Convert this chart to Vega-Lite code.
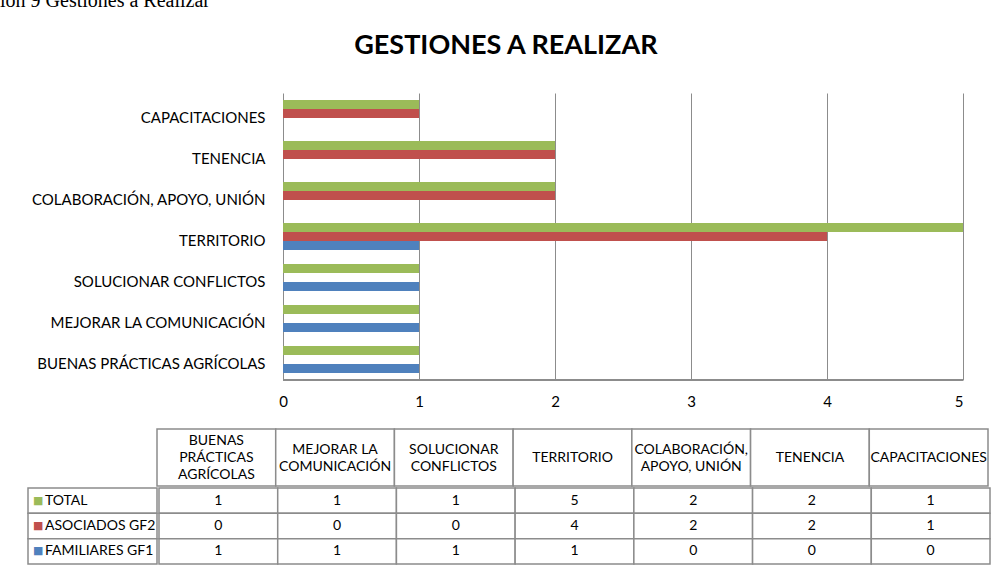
{
  "$schema": "https://vega.github.io/schema/vega-lite/v6.json",
  "padding": {"left": 0, "top": -9, "right": 3, "bottom": 4},
  "background": "#ffffff",
  "title": {"text": "ión 9 Gestiones a Realizar", "anchor": "start", "font": "Liberation Serif", "fontSize": 20, "fontWeight": "normal", "color": "#000000", "offset": 21},
  "datasets": {
    "d": [
      {"cat": "BUENAS PRÁCTICAS AGRÍCOLAS", "serie": "TOTAL", "valor": 1},
      {"cat": "BUENAS PRÁCTICAS AGRÍCOLAS", "serie": "ASOCIADOS GF2", "valor": 0},
      {"cat": "BUENAS PRÁCTICAS AGRÍCOLAS", "serie": "FAMILIARES GF1", "valor": 1},
      {"cat": "MEJORAR LA COMUNICACIÓN", "serie": "TOTAL", "valor": 1},
      {"cat": "MEJORAR LA COMUNICACIÓN", "serie": "ASOCIADOS GF2", "valor": 0},
      {"cat": "MEJORAR LA COMUNICACIÓN", "serie": "FAMILIARES GF1", "valor": 1},
      {"cat": "SOLUCIONAR CONFLICTOS", "serie": "TOTAL", "valor": 1},
      {"cat": "SOLUCIONAR CONFLICTOS", "serie": "ASOCIADOS GF2", "valor": 0},
      {"cat": "SOLUCIONAR CONFLICTOS", "serie": "FAMILIARES GF1", "valor": 1},
      {"cat": "TERRITORIO", "serie": "TOTAL", "valor": 5},
      {"cat": "TERRITORIO", "serie": "ASOCIADOS GF2", "valor": 4},
      {"cat": "TERRITORIO", "serie": "FAMILIARES GF1", "valor": 1},
      {"cat": "COLABORACIÓN, APOYO, UNIÓN", "serie": "TOTAL", "valor": 2},
      {"cat": "COLABORACIÓN, APOYO, UNIÓN", "serie": "ASOCIADOS GF2", "valor": 2},
      {"cat": "COLABORACIÓN, APOYO, UNIÓN", "serie": "FAMILIARES GF1", "valor": 0},
      {"cat": "TENENCIA", "serie": "TOTAL", "valor": 2},
      {"cat": "TENENCIA", "serie": "ASOCIADOS GF2", "valor": 2},
      {"cat": "TENENCIA", "serie": "FAMILIARES GF1", "valor": 0},
      {"cat": "CAPACITACIONES", "serie": "TOTAL", "valor": 1},
      {"cat": "CAPACITACIONES", "serie": "ASOCIADOS GF2", "valor": 1},
      {"cat": "CAPACITACIONES", "serie": "FAMILIARES GF1", "valor": 0}
    ],
    "h": [
      {"cat": "BUENAS PRÁCTICAS AGRÍCOLAS", "enc": "BUENAS\nPRÁCTICAS\nAGRÍCOLAS"},
      {"cat": "MEJORAR LA COMUNICACIÓN", "enc": "MEJORAR LA\nCOMUNICACIÓN"},
      {"cat": "SOLUCIONAR CONFLICTOS", "enc": "SOLUCIONAR\nCONFLICTOS"},
      {"cat": "TERRITORIO", "enc": "TERRITORIO"},
      {"cat": "COLABORACIÓN, APOYO, UNIÓN", "enc": "COLABORACIÓN,\nAPOYO, UNIÓN"},
      {"cat": "TENENCIA", "enc": "TENENCIA"},
      {"cat": "CAPACITACIONES", "enc": "CAPACITACIONES"}
    ],
    "s": [
      {"serie": "TOTAL"},
      {"serie": "ASOCIADOS GF2"},
      {"serie": "FAMILIARES GF1"}
    ]
  },
  "spacing": 19,
  "vconcat": [
    {
      "width": 963,
      "height": 287,
      "title": {"text": "GESTIONES A REALIZAR", "font": "Lato", "fontSize": 27, "fontWeight": "bold", "color": "#000000", "anchor": "middle", "frame": "bounds", "dx": 24, "offset": 33},
      "data": {"name": "d"},
      "layer": [
        {
          "mark": {"type": "bar"},
          "encoding": {
            "y": {
              "field": "cat", "type": "nominal",
              "sort": ["CAPACITACIONES", "TENENCIA", "COLABORACIÓN, APOYO, UNIÓN", "TERRITORIO", "SOLUCIONAR CONFLICTOS", "MEJORAR LA COMUNICACIÓN", "BUENAS PRÁCTICAS AGRÍCOLAS"],
              "scale": {"paddingInner": 0.34, "paddingOuter": 0.17},
              "axis": {"title": null, "ticks": false, "tickSize": 0, "domain": false, "labelFont": "Lato", "labelFontSize": 15, "labelColor": "#000000", "labelAlign": "right", "labelPadding": -265, "labelOffset": 4, "minExtent": 0, "maxExtent": 0, "labelLimit": 400}
            },
            "yOffset": {
              "field": "serie", "type": "nominal",
              "sort": ["TOTAL", "ASOCIADOS GF2", "FAMILIARES GF1"],
              "scale": {"paddingInner": 0, "paddingOuter": 0}
            },
            "x": {
              "field": "valor", "type": "quantitative",
              "scale": {"domain": [-2.081, 5], "nice": false, "zero": false},
              "axis": {"title": null, "values": [0, 1, 2, 3, 4, 5], "format": "d", "grid": true, "gridColor": "#8c8c8c", "gridWidth": 1, "gridOpacity": 1, "domain": false, "ticks": false, "labelPadding": 14, "labelFont": "Lato", "labelFontSize": 15, "labelColor": "#000000"}
            },
            "color": {
              "field": "serie", "type": "nominal",
              "scale": {"domain": ["TOTAL", "ASOCIADOS GF2", "FAMILIARES GF1"], "range": ["#9BBB59", "#C0504D", "#4F81BD"]},
              "legend": null
            }
          }
        },
        {
          "mark": {"type": "rule", "color": "#8c8c8c", "strokeWidth": 1.5},
          "encoding": {
            "x": {"datum": 0, "type": "quantitative"},
            "x2": {"datum": 5},
            "y": {"datum": "BUENAS PRÁCTICAS AGRÍCOLAS", "type": "nominal", "bandPosition": 1.25}
          }
        }
      ]
    },
    {
      "spacing": 0,
      "vconcat": [
        {
          "spacing": 0,
          "hconcat": [
            {
              "width": 156,
              "height": 57,
              "data": {"name": "s"},
              "mark": {"type": "text", "opacity": 0},
              "encoding": {"text": {"value": ""}}
            },
            {
              "width": 831,
              "height": 57,
              "data": {"name": "h"},
              "encoding": {
                "x": {"field": "cat", "type": "nominal", "sort": ["BUENAS PRÁCTICAS AGRÍCOLAS", "MEJORAR LA COMUNICACIÓN", "SOLUCIONAR CONFLICTOS", "TERRITORIO", "COLABORACIÓN, APOYO, UNIÓN", "TENENCIA", "CAPACITACIONES"], "scale": {"paddingInner": 0, "paddingOuter": 0}, "axis": null}
              },
              "layer": [
                {"mark": {"type": "rect", "fill": "#ffffff", "stroke": "#8c8c8c", "strokeWidth": 1.5}},
                {"transform": [{"filter": "!test(/\\n/, datum.enc)"}], "mark": {"type": "text", "font": "Lato", "fontSize": 14, "color": "#000000", "baseline": "middle"}, "encoding": {"text": {"field": "enc"}}},
                {"transform": [{"filter": "test(/\\n/, datum.enc) && !test(/\\n.*\\n/, datum.enc)"}], "mark": {"type": "text", "font": "Lato", "fontSize": 14, "color": "#000000", "lineBreak": "\n", "lineHeight": 17, "baseline": "middle", "dy": -8}, "encoding": {"text": {"field": "enc"}}},
                {"transform": [{"filter": "test(/\\n.*\\n/, datum.enc)"}], "mark": {"type": "text", "font": "Lato", "fontSize": 14, "color": "#000000", "lineBreak": "\n", "lineHeight": 17, "baseline": "middle", "dy": -17}, "encoding": {"text": {"field": "enc"}}}
              ]
            }
          ]
        },
        {
          "spacing": 0,
          "hconcat": [
            {
              "width": 27,
              "height": 76,
              "data": {"name": "s"},
              "mark": {"type": "text", "opacity": 0},
              "encoding": {"text": {"value": ""}}
            },
            {
              "width": 129,
              "height": 76,
              "data": {"name": "s"},
              "encoding": {
                "y": {"field": "serie", "type": "nominal", "sort": ["TOTAL", "ASOCIADOS GF2", "FAMILIARES GF1"], "scale": {"paddingInner": 0, "paddingOuter": 0}, "axis": null},
                "x": {"datum": "leyenda", "type": "nominal", "bandPosition": 0, "scale": {"paddingInner": 0, "paddingOuter": 0}, "axis": null}
              },
              "layer": [
                {"mark": {"type": "rect", "fill": "#ffffff", "stroke": "#8c8c8c", "strokeWidth": 1.5}, "encoding": {"x": {"datum": "leyenda", "type": "nominal", "axis": null}}},
                {"mark": {"type": "text", "align": "left", "baseline": "middle", "dx": 5, "fontSize": 11, "font": "DejaVu Sans"}, "encoding": {"text": {"value": "■"}, "color": {"field": "serie", "type": "nominal", "scale": {"domain": ["TOTAL", "ASOCIADOS GF2", "FAMILIARES GF1"], "range": ["#9BBB59", "#C0504D", "#4F81BD"]}, "legend": null}}},
                {"mark": {"type": "text", "align": "left", "baseline": "middle", "dx": 17, "fontSize": 14, "font": "Lato", "color": "#000000"}, "encoding": {"text": {"field": "serie"}}}
              ]
            },
            {
              "width": 831,
              "height": 76,
              "data": {"name": "d"},
              "encoding": {
                "x": {"field": "cat", "type": "nominal", "sort": ["BUENAS PRÁCTICAS AGRÍCOLAS", "MEJORAR LA COMUNICACIÓN", "SOLUCIONAR CONFLICTOS", "TERRITORIO", "COLABORACIÓN, APOYO, UNIÓN", "TENENCIA", "CAPACITACIONES"], "scale": {"paddingInner": 0, "paddingOuter": 0}, "axis": null},
                "y": {"field": "serie", "type": "nominal", "sort": ["TOTAL", "ASOCIADOS GF2", "FAMILIARES GF1"], "scale": {"paddingInner": 0, "paddingOuter": 0}, "axis": null}
              },
              "layer": [
                {"mark": {"type": "rect", "fill": "#ffffff", "stroke": "#8c8c8c", "strokeWidth": 1.5}},
                {"mark": {"type": "text", "font": "Lato", "fontSize": 14, "color": "#000000", "baseline": "middle"}, "encoding": {"text": {"field": "valor", "type": "quantitative"}}}
              ]
            }
          ]
        }
      ]
    }
  ],
  "config": {
    "view": {"stroke": null},
    "font": "Lato"
  }
}
